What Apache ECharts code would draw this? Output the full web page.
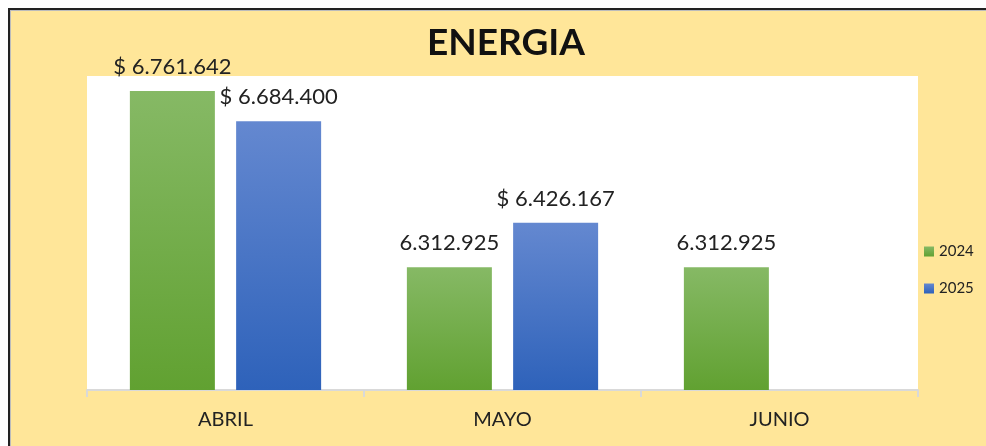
<!DOCTYPE html>
<html>
<head>
<meta charset="utf-8">
<script src="https://cdn.jsdelivr.net/npm/echarts@6/dist/echarts.min.js"></script>
<style>
html,body{margin:0;padding:0;background:#fff;}
#c{width:986px;height:446px;}
</style>
</head>
<body>
<div id="c"></div>
<script>
const titleText = "ENERGIA";
const categories = ["ABRIL", "MAYO", "JUNIO"];
const seriesNames = ["2024", "2025"];
const values2024 = [6761642, 6312925, 6312925];
const values2025 = [6684400, 6426167, null];
const currency2024 = [true, false, false];
const currency2025 = [true, true, false];
const yMin = 6000000;
const yMax = 6800000;

function fmt(v, cur) {
  const s = String(Math.round(v)).replace(/\B(?=(\d{3})+(?!\d))/g, ".");
  return (cur ? "$ " : "") + s;
}

const chart = echarts.init(document.getElementById("c"), null, {renderer: "canvas"});
const labelStyle = {
  show: true, position: "top", distance: 13,
  fontFamily: "Lato", fontSize: 22, color: "#222"
};
chart.setOption({
  backgroundColor: "#FFE699",
  animation: false,
  title: {
    text: titleText, left: 501, textAlign: "center", top: 20,
    textStyle: {fontFamily: "Lato", fontWeight: "bold", fontSize: 37, color: "#111"}
  },
  legend: {
    orient: "vertical", left: 919, top: 239,
    icon: "rect", itemWidth: 10, itemHeight: 10, itemGap: 22,
    textStyle: {fontFamily: "Lato", fontSize: 15, color: "#222"},
    data: seriesNames
  },
  grid: {left: 87, right: 68, top: 76, bottom: 56, show: true, backgroundColor: "#fff", borderWidth: 0},
  xAxis: {
    type: "category", data: categories,
    axisLine: {lineStyle: {color: "#D9D9D9", width: 2}},
    axisTick: {show: true, length: 7, lineStyle: {color: "#D9D9D9", width: 2}},
    axisLabel: {fontFamily: "Lato", fontSize: 20, color: "#222", margin: 20}
  },
  yAxis: {
    type: "value", min: yMin, max: yMax, show: false, splitLine: {show: false}
  },
  series: [
    {
      name: seriesNames[0], type: "bar", barWidth: 85, barGap: "25%",
      data: values2024,
      itemStyle: {color: new echarts.graphic.LinearGradient(0, 0, 0, 1, [
        {offset: 0, color: "#86B965"}, {offset: 1, color: "#61A131"}])},
      label: Object.assign({}, labelStyle, {formatter: p => fmt(p.value, currency2024[p.dataIndex])})
    },
    {
      name: seriesNames[1], type: "bar", barWidth: 85,
      data: values2025,
      itemStyle: {color: new echarts.graphic.LinearGradient(0, 0, 0, 1, [
        {offset: 0, color: "#6488D0"}, {offset: 1, color: "#2E62BA"}])},
      label: Object.assign({}, labelStyle, {formatter: p => fmt(p.value, currency2025[p.dataIndex])})
    }
  ],
  graphic: [
    {type: "rect", shape: {x: 0, y: 0, width: 986, height: 8}, style: {fill: "#fff"}, z: 100},
    {type: "rect", shape: {x: 0, y: 0, width: 8, height: 446}, style: {fill: "#fff"}, z: 100},
    {type: "rect", shape: {x: 8, y: 8, width: 978, height: 2}, style: {fill: "#222"}, z: 100},
    {type: "rect", shape: {x: 8, y: 8, width: 2, height: 438}, style: {fill: "#222"}, z: 100},
    {type: "rect", shape: {x: 10, y: 10, width: 976, height: 1}, style: {fill: "#bbb"}, z: 100},
    {type: "rect", shape: {x: 10, y: 10, width: 1, height: 436}, style: {fill: "#bbb"}, z: 100}
  ]
});
</script>
</body>
</html>
